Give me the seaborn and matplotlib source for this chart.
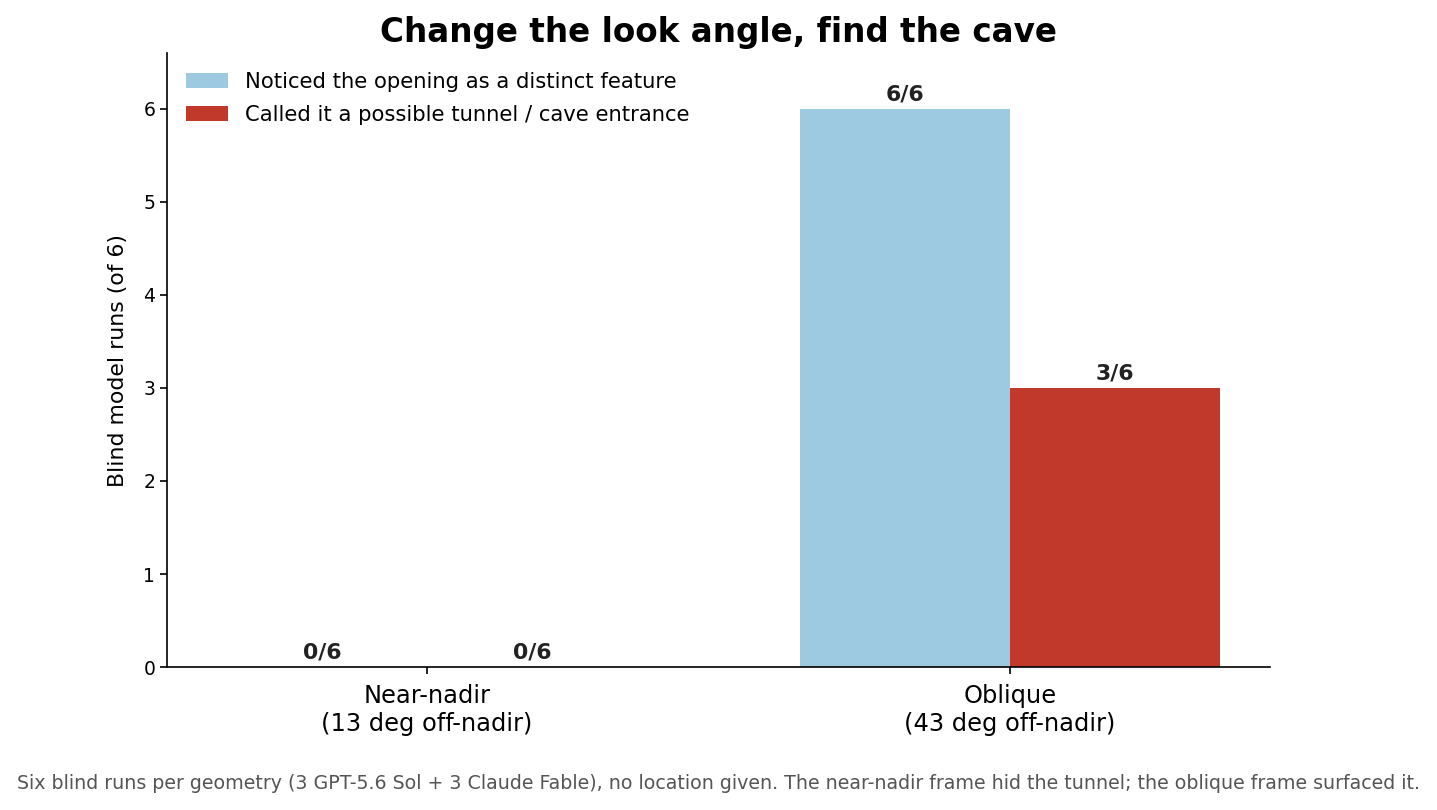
import matplotlib
matplotlib.use("Agg")
import matplotlib.pyplot as plt
import pandas as pd
import seaborn as sns

GEOMETRIES = ["Near-nadir\n(13 deg off-nadir)", "Oblique\n(43 deg off-nadir)"]
MEASURES = [
    "Noticed the opening as a distinct feature",
    "Called it a possible tunnel / cave entrance",
]
NOTICED = [0, 6]
CALLED_TUNNEL = [0, 3]
RUNS_PER_GEOMETRY = 6
COLORS = ["#9ecae1", "#c0392b"]

TITLE = "Change the look angle, find the cave"
Y_LABEL = "Blind model runs (of 6)"
FOOTNOTE = (
    "Six blind runs per geometry (3 GPT-5.6 Sol + 3 Claude Fable), no location given. "
    "The near-nadir frame hid the tunnel; the oblique frame surfaced it."
)


def build_frame():
    rows = []
    for geometry, n, c in zip(GEOMETRIES, NOTICED, CALLED_TUNNEL):
        rows.append({"geometry": geometry, "measure": MEASURES[0], "runs": n})
        rows.append({"geometry": geometry, "measure": MEASURES[1], "runs": c})
    return pd.DataFrame(rows)


def main():
    sns.set_style("white")
    plt.rcParams.update({
        "font.family": ["DejaVu Sans"],
        "text.color": "black",
        "axes.labelcolor": "black",
        "axes.edgecolor": "black",
        "xtick.color": "black",
        "ytick.color": "black",
    })
    df = build_frame()

    fig = plt.figure(figsize=(14.37, 8.1), dpi=100)
    ax = fig.add_axes([0.1162, 0.1765, 0.7676, 0.758])

    sns.barplot(
        data=df,
        x="geometry",
        y="runs",
        hue="measure",
        hue_order=MEASURES,
        palette=COLORS,
        width=0.72,
        saturation=1,
        linewidth=0,
        ax=ax,
    )

    for container in ax.containers:
        labels = [f"{int(b.get_height())}/{RUNS_PER_GEOMETRY}" for b in container]
        ax.bar_label(
            container,
            labels=labels,
            padding=3,
            fontsize=15.8,
            fontweight="bold",
            color="#222222",
        )

    ax.set_xlim(-0.446, 1.446)
    ax.set_ylim(0, 6.6)
    ax.set_xlabel("")
    ax.set_ylabel(Y_LABEL, fontsize=15.8, labelpad=11)
    ax.set_title(TITLE, fontsize=23.5, fontweight="bold", pad=8)
    ax.tick_params(axis="x", labelsize=17.4, length=5, width=1.2, pad=7.5,
                   bottom=True)
    ax.tick_params(axis="y", labelsize=13.5, length=5, width=1.2, left=True)
    for side in ("left", "bottom"):
        ax.spines[side].set_linewidth(1.2)
    sns.despine(ax=ax)

    ax.legend(loc="upper left", frameon=False, fontsize=15.2,
              labelspacing=0.6)

    fig.text(0.5, 0.0333, FOOTNOTE, ha="center", va="center",
             fontsize=13.7, color="#555555")

    fig.savefig("out.png", dpi=100)
    plt.close(fig)


if __name__ == "__main__":
    main()
